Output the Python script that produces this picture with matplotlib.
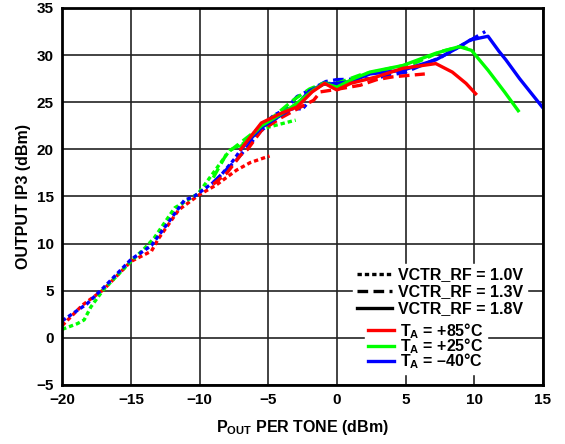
import matplotlib
matplotlib.use("Agg")
import matplotlib.pyplot as plt
from matplotlib.lines import Line2D

plt.rcParams['font.family'] = ['Liberation Sans', 'DejaVu Sans']
plt.rcParams['font.weight'] = 'bold'
plt.rcParams['mathtext.fontset'] = 'custom'
plt.rcParams['mathtext.bf'] = 'Liberation Sans:bold'
plt.rcParams['mathtext.rm'] = 'Liberation Sans:bold'
plt.rcParams['mathtext.default'] = 'bf'

# VCTR_RF = 1.0V (dotted)
x_10_85 = [-20, -18.5, -17, -15, -13.5, -13, -11.5, -10, -8.8, -7.3, -6.3, -4.9]
y_10_85 = [1.3, 3.5, 5.1, 8.1, 9.2, 10.5, 13.6, 15.2, 16.2, 17.8, 18.6, 19.3]
x_10_25 = [-20, -18.9, -18.4, -17.9, -17, -15, -14, -13.3, -11.8, -10.1, -9, -7.8, -6.6, -5.4, -3]
y_10_25 = [0.9, 1.5, 1.9, 3.3, 5.1, 8.1, 9.5, 10.6, 13.8, 15.3, 17.5, 19.9, 20.8, 22.2, 23.1]
x_10_m40 = [-20, -18.2, -17, -15, -13.5, -11.8, -11.1, -10.4, -8.7, -7.5, -6.3, -4.6, -3.7, -2.5, -2.2]
y_10_m40 = [1.8, 3.6, 5.3, 8.3, 9.8, 13.2, 14.6, 15.0, 16.8, 18.9, 21.4, 23.6, 24.3, 24.3, 24.8]

# VCTR_RF = 1.3V (dashed)
x_13_85 = [-9, -8, -7, -6.5, -5.5, -4, -2.5, -1.7, -1.2, -0.3, 1.7, 2.9, 4.1, 6.4]
y_13_85 = [16.3, 17.5, 19.4, 20.0, 22.0, 23.4, 24.6, 25.2, 26.1, 26.3, 26.8, 27.4, 27.7, 28.0]
x_13_25 = [-9, -8, -6.5, -5, -3.2, -2, -1, 0, 1.7, 3.9, 5.6, 7.6, 9, 9.5]
y_13_25 = [17.0, 19.6, 21.3, 23.0, 25.2, 26.4, 27.0, 27.0, 27.9, 28.6, 29.1, 30.4, 30.9, 30.7]
x_13_m40 = [-9, -7.3, -5.5, -4, -2.9, -1.7, -0.8, 0, 2.6, 5, 7.6, 9.5, 10.8]
y_13_m40 = [16.5, 18.9, 22.0, 23.8, 25.6, 26.5, 27.2, 27.4, 27.5, 28.2, 29.8, 31.4, 32.5]

# VCTR_RF = 1.8V (solid)
x_18_85 = [-7, -5.5, -4.1, -2.9, -1.8, -0.9, 0, 1, 2.9, 4.8, 7.2, 8.4, 9.4, 10.1]
y_18_85 = [20.0, 22.8, 23.8, 24.5, 26.1, 27.0, 26.3, 27.0, 27.7, 28.6, 29.1, 28.2, 27.0, 25.9]
x_18_25 = [-7, -5.5, -4, -3, -1.7, -0.9, 0, 1.2, 2.4, 4.8, 7.2, 8.9, 9.8, 11, 12.2, 13.2]
y_18_25 = [20.3, 22.5, 23.8, 24.8, 26.3, 27.0, 26.6, 27.5, 28.2, 28.9, 30.2, 30.9, 30.5, 28.4, 26.1, 24.1]
x_18_m40 = [-7, -5.5, -4, -3, -2, -1, 0, 1, 2.4, 4.8, 7.2, 8.7, 9.7, 11, 11.8, 12.3, 13.3, 15]
y_18_m40 = [20.0, 22.3, 23.7, 24.6, 26.2, 26.9, 27.0, 27.2, 28.0, 28.4, 29.5, 30.7, 31.6, 32.0, 30.4, 29.5, 27.5, 24.4]

red, green, blue = '#ff0000', '#00ff00', '#0000ff'
dotted = (0, (1.3, 0.9))
dashed = (0, (3.2, 1.6))
lw = 2.4

fig = plt.figure(figsize=(5.65, 4.44), dpi=100)
ax = fig.add_axes([0.110, 0.133, 0.851, 0.849])

ax.plot(x_10_85, y_10_85, color=red, lw=lw, ls=dotted)
ax.plot(x_10_25, y_10_25, color=green, lw=lw, ls=dotted)
ax.plot(x_10_m40, y_10_m40, color=blue, lw=lw, ls=dotted)
ax.plot(x_13_m40, y_13_m40, color=blue, lw=lw, ls=dashed)
ax.plot(x_13_25, y_13_25, color=green, lw=lw, ls=dashed)
ax.plot(x_13_85, y_13_85, color=red, lw=lw, ls=dashed)
ax.plot(x_18_m40, y_18_m40, color=blue, lw=lw)
ax.plot(x_18_25, y_18_25, color=green, lw=lw)
ax.plot(x_18_85, y_18_85, color=red, lw=lw)

ax.set_xlim(-20, 15)
ax.set_ylim(-5, 35)
ax.set_xticks(range(-20, 16, 5))
ax.set_yticks(range(-5, 36, 5))
ax.grid(True, color='#222222', lw=1.2)
ax.set_axisbelow(True)
for s in ax.spines.values():
    s.set_linewidth(2)
ax.tick_params(length=0, labelsize=11, pad=6)
for lab in ax.get_xticklabels() + ax.get_yticklabels():
    lab.set_fontweight('bold')

ax.set_xlabel('P$_{OUT}$ PER TONE (dBm)', fontsize=11.5, fontweight='bold', labelpad=8)
ax.set_ylabel('OUTPUT IP3 (dBm)', fontsize=11.5, fontweight='bold', labelpad=4)

style_handles = [
    Line2D([], [], color='black', lw=lw, ls=dotted),
    Line2D([], [], color='black', lw=lw, ls=dashed),
    Line2D([], [], color='black', lw=lw),
]
style_labels = ['VCTR_RF = 1.0V', 'VCTR_RF = 1.3V', 'VCTR_RF = 1.8V']
leg1 = ax.legend(style_handles, style_labels, loc='upper left', bbox_to_anchor=(0.605, 0.322),
                 frameon=True, fancybox=False, edgecolor='white', framealpha=1,
                 prop={'weight': 'bold', 'size': 11.5}, handlelength=2.2, handletextpad=0.35,
                 labelspacing=0.12, borderpad=0.25, borderaxespad=0)
leg1.set_zorder(7)
ax.add_artist(leg1)

color_handles = [
    Line2D([], [], color=red, lw=lw),
    Line2D([], [], color=green, lw=lw),
    Line2D([], [], color=blue, lw=lw),
]
color_labels = ['T$_{A}$ = +85°C', 'T$_{A}$ = +25°C', 'T$_{A}$ = –40°C']
ax.legend(color_handles, color_labels, loc='upper left', bbox_to_anchor=(0.63, 0.178),
          frameon=True, fancybox=False, edgecolor='white', framealpha=1,
          prop={'weight': 'bold', 'size': 11.5}, handlelength=1.6, handletextpad=0.4,
          labelspacing=-0.28, borderpad=0.2, borderaxespad=0)

fig.savefig('out.png', dpi=100)
